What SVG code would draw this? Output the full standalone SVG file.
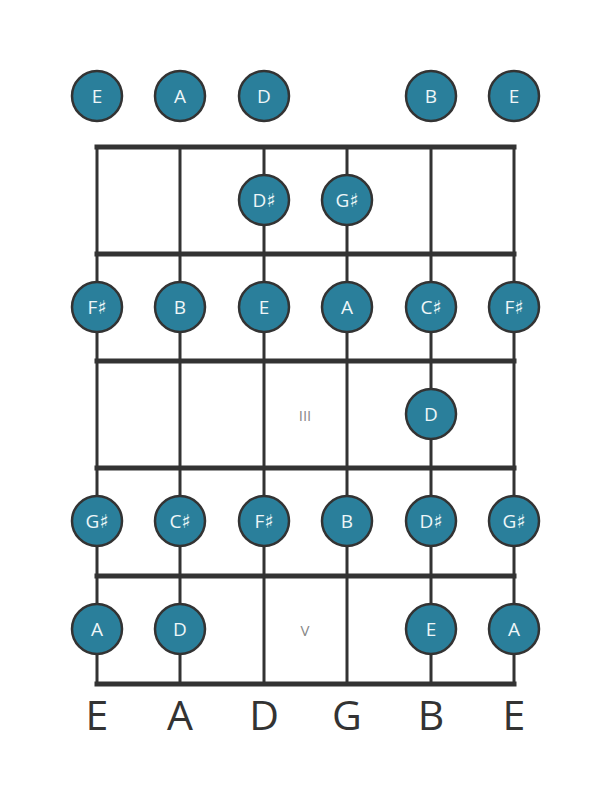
<svg xmlns="http://www.w3.org/2000/svg" width="611" height="801" viewBox="0 0 611 801">
<style>
.str{stroke:#333;stroke-width:3}
.fret{stroke:#333;stroke-width:5;stroke-linecap:square}
.note circle{fill:#2a7f9b;stroke:#333;stroke-width:2.5}
.note text{fill:#eef6f8;font-family:"Open Sans","DejaVu Sans",sans-serif;font-size:19px;text-anchor:middle;dominant-baseline:central}
.roman{fill:#888;font-family:"Open Sans",sans-serif;font-size:15px;text-anchor:middle;dominant-baseline:central}
.lbl{fill:#333;font-family:"Open Sans",sans-serif;font-size:41px;text-anchor:middle}
</style>
<rect width="611" height="801" fill="#fff"/>
<g id="connectors">
<line class="str" x1="97" y1="147" x2="97" y2="684"/>
<line class="str" x1="180" y1="147" x2="180" y2="684"/>
<line class="str" x1="264" y1="147" x2="264" y2="684"/>
<line class="str" x1="347" y1="147" x2="347" y2="684"/>
<line class="str" x1="431" y1="147" x2="431" y2="684"/>
<line class="str" x1="514" y1="147" x2="514" y2="684"/>
<line class="fret" x1="97" y1="147" x2="514" y2="147"/>
<line class="fret" x1="97" y1="254" x2="514" y2="254"/>
<line class="fret" x1="97" y1="361" x2="514" y2="361"/>
<line class="fret" x1="97" y1="468" x2="514" y2="468"/>
<line class="fret" x1="97" y1="576" x2="514" y2="576"/>
<line class="fret" x1="97" y1="684" x2="514" y2="684"/>
</g>
<text class="roman" x="305" y="415">III</text>
<text class="roman" x="305" y="630">V</text>
<g id="open-E6" class="note"><circle cx="97" cy="96" r="25"/><text x="97" y="96">E</text></g>
<g id="open-A" class="note"><circle cx="180" cy="96" r="25"/><text x="180" y="96">A</text></g>
<g id="open-D" class="note"><circle cx="264" cy="96" r="25"/><text x="264" y="96">D</text></g>
<g id="open-B" class="note"><circle cx="431" cy="96" r="25"/><text x="431" y="96">B</text></g>
<g id="open-E1" class="note"><circle cx="514" cy="96" r="25"/><text x="514" y="96">E</text></g>
<g id="f1-D" class="note"><circle cx="264" cy="200" r="25"/><text x="264" y="200">D♯</text></g>
<g id="f1-G" class="note"><circle cx="347" cy="200" r="25"/><text x="347" y="200">G♯</text></g>
<g id="f2-E6" class="note"><circle cx="97" cy="307" r="25"/><text x="97" y="307">F♯</text></g>
<g id="f2-A" class="note"><circle cx="180" cy="307" r="25"/><text x="180" y="307">B</text></g>
<g id="f2-D" class="note"><circle cx="264" cy="307" r="25"/><text x="264" y="307">E</text></g>
<g id="f2-G" class="note"><circle cx="347" cy="307" r="25"/><text x="347" y="307">A</text></g>
<g id="f2-B" class="note"><circle cx="431" cy="307" r="25"/><text x="431" y="307">C♯</text></g>
<g id="f2-E1" class="note"><circle cx="514" cy="307" r="25"/><text x="514" y="307">F♯</text></g>
<g id="f3-B" class="note"><circle cx="431" cy="414" r="25"/><text x="431" y="414">D</text></g>
<g id="f4-E6" class="note"><circle cx="97" cy="521" r="25"/><text x="97" y="521">G♯</text></g>
<g id="f4-A" class="note"><circle cx="180" cy="521" r="25"/><text x="180" y="521">C♯</text></g>
<g id="f4-D" class="note"><circle cx="264" cy="521" r="25"/><text x="264" y="521">F♯</text></g>
<g id="f4-G" class="note"><circle cx="347" cy="521" r="25"/><text x="347" y="521">B</text></g>
<g id="f4-B" class="note"><circle cx="431" cy="521" r="25"/><text x="431" y="521">D♯</text></g>
<g id="f4-E1" class="note"><circle cx="514" cy="521" r="25"/><text x="514" y="521">G♯</text></g>
<g id="f5-E6" class="note"><circle cx="97" cy="629" r="25"/><text x="97" y="629">A</text></g>
<g id="f5-A" class="note"><circle cx="180" cy="629" r="25"/><text x="180" y="629">D</text></g>
<g id="f5-B" class="note"><circle cx="431" cy="629" r="25"/><text x="431" y="629">E</text></g>
<g id="f5-E1" class="note"><circle cx="514" cy="629" r="25"/><text x="514" y="629">A</text></g>
<g id="labels">
<text class="lbl" x="97" y="730">E</text>
<text class="lbl" x="180" y="730">A</text>
<text class="lbl" x="264" y="730">D</text>
<text class="lbl" x="347" y="730">G</text>
<text class="lbl" x="431" y="730">B</text>
<text class="lbl" x="514" y="730">E</text>
</g>
</svg>
